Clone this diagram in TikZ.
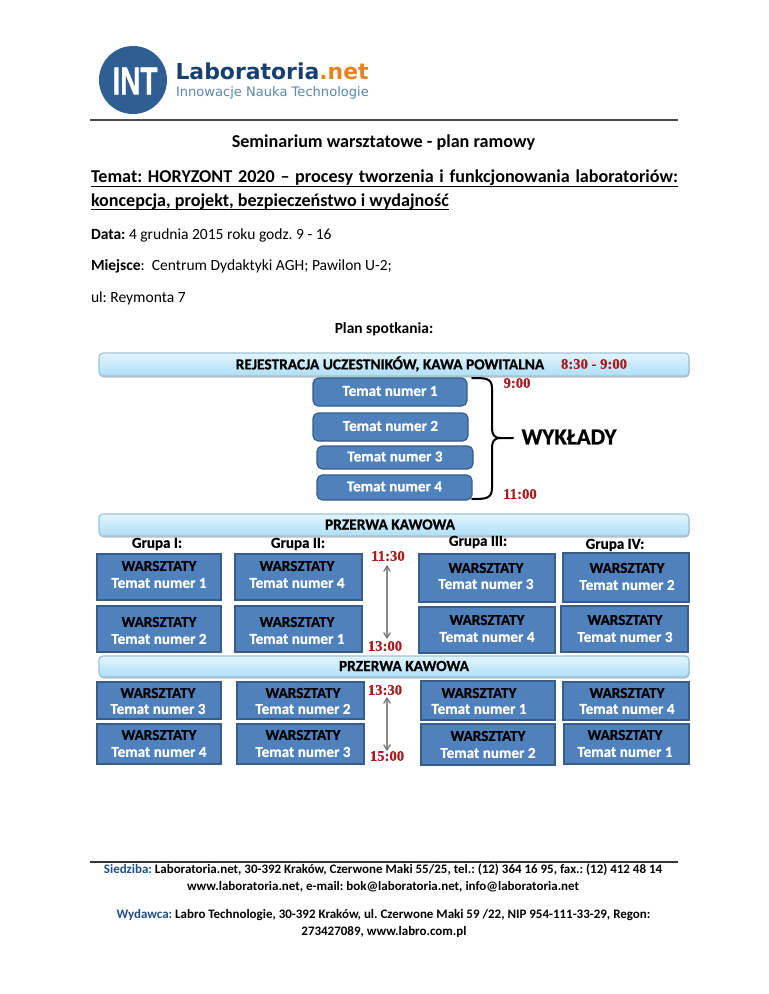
\documentclass[tikz,border=0pt]{standalone}
\usepackage{fontspec}
\usepackage{graphicx}
\setmainfont{Carlito}
\newfontfamily\heavyfont[BoldFeatures={FakeBold=0.7}]{Carlito}
\newfontfamily\dejafont{DejaVu Sans}
\newfontfamily\libfont[BoldFeatures={FakeBold=1.2}]{Liberation Sans}
\newfontfamily\timefont[BoldFeatures={FakeBold=0.5}]{Liberation Serif}
\newcommand{\fsz}[1]{\fontsize{#1}{#1}\selectfont}
\definecolor{boxfill}{HTML}{4F81BD}
\definecolor{boxline}{HTML}{385D8A}
\definecolor{timered}{HTML}{A81C20}
\definecolor{logoblue}{HTML}{2F5E93}
\definecolor{logodark}{HTML}{17406F}
\definecolor{logomid}{HTML}{5A86AE}
\definecolor{logoorange}{HTML}{E8821E}
\definecolor{footblue}{HTML}{1F4E8C}
\definecolor{bantop}{HTML}{E2F5FD}
\definecolor{banmid}{HTML}{CFEEFB}
\definecolor{banbot}{HTML}{AEDFF7}
\definecolor{banedge}{HTML}{9FC3D6}
\usetikzlibrary{arrows.meta}
\tikzset{
  txt/.style={inner sep=0pt,outer sep=0pt,anchor=base west,font=\fsz{11.65}},
  ctr/.style={inner sep=0pt,outer sep=0pt,anchor=center,font=\heavyfont\bfseries\fsz{11.3}},
  whitet/.style={inner sep=0pt,anchor=center,text=white,font=\heavyfont\bfseries\fsz{11.4}},
  blackt/.style={inner sep=0pt,anchor=center,text=black,font=\heavyfont\bfseries\fsz{11.4}},
  timet/.style={inner sep=0pt,outer sep=0pt,anchor=center,text=timered,font=\timefont\bfseries\fsz{11}},
  span/.style={draw=black!45,line width=0.9pt,{Straight Barb[length=4pt,width=5pt,black!55]}-{Straight Barb[length=4pt,width=5pt,black!55]}},
  brace/.style={draw=black,line width=1.5pt,line cap=round,line join=round},
  foot/.style={inner sep=0pt,anchor=base,font=\bfseries\fsz{9.72}},
}
\newcommand{\bannerbox}[5]{%
  \fill[black!25,rounded corners=3pt] (#2+0.5,#3+1.5) rectangle (#4+0.5,#5+1.5);
  \shade[rounded corners=3pt,top color=bantop,middle color=banmid,bottom color=banbot]
     (#2,#3) rectangle (#4,#5);
  \draw[rounded corners=3pt,draw=banedge,line width=0.9pt] (#2,#3) rectangle (#4,#5);
  \coordinate (#1) at ({(#2+#4)/2},{(#3+#5)/2});
}
\newcommand{\tbox}[6]{%
  \draw[rounded corners=4pt,fill=boxfill,draw=boxline,line width=0.9pt] (#2,#3) rectangle (#4,#5);
  \node[whitet] (#1) at ({(#2+#4)/2},{(#3+#5)/2-1}) {#6};
}
\newcommand{\wbox}[9]{%
  \draw[fill=boxfill,draw=boxline,line width=0.9pt] (#2,#3) rectangle (#4,#5);
  \node[blackt] (#1a) at (#6,#7) {WARSZTATY};
  \node[whitet] (#1b) at (#6,#8) {#9};
}
\begin{document}
\frenchspacing
\begin{tikzpicture}[x=0.75pt,y=-0.75pt]
\useasboundingbox (0,0) rectangle (768,994);
\fill[white] (0,0) rectangle (768,994);
% logo
\fill[logoblue] (133,80) circle (34);
\node[inner sep=0pt,text=white] (logoint) at (135,81) {\scalebox{0.72}[1]{\libfont\bfseries\fsz{29}INT}};
\node[txt,text=logodark,font=\dejafont\bfseries\fsz{16.45}] (logoa) at (175.5,80) {Laboratoria\textcolor{logoorange}{.net}};
\node[txt,text=logomid,font=\dejafont\fsz{9.8}] (logob) at (176,97) {Innowacje Nauka Technologie};
\draw[black!70,line width=1.1pt] (90,120) -- (678,120);
% heading
\node[inner sep=0pt,anchor=base,font=\bfseries\fsz{13.6}] (title) at (383.5,148) {Seminarium warsztatowe - plan ramowy};
\node[txt,font=\bfseries\fsz{13.58}] (tem1) at (91,183) {\makebox[440.25pt][s]{Temat: HORYZONT 2020 – procesy tworzenia i funkcjonowania laboratoriów:}};
\node[txt,font=\bfseries\fsz{13.58}] (tem2) at (91,207) {koncepcja, projekt, bezpieczeństwo i wydajność};
\draw[black,line width=0.8pt] ([yshift=-2.6pt]tem1.base west) -- ([yshift=-2.6pt]tem1.base east);
\draw[black,line width=0.8pt] ([yshift=-1.8pt]tem2.base west) -- ([yshift=-1.8pt]tem2.base east);
\node[txt] (data) at (91,239.5) {\textbf{Data:} 4 grudnia 2015 roku godz. 9 - 16};
\node[txt] (miej) at (91,271) {\textbf{Miejsce}:\ \ Centrum Dydaktyki AGH; Pawilon U-2;};
\node[txt] (ul) at (91,303) {ul: Reymonta 7};
\node[inner sep=0pt,anchor=base,font=\bfseries\fsz{11.6}] (plan) at (384,334) {Plan spotkania:};
% banners
\bannerbox{ban1}{99}{353}{689}{376}
\bannerbox{ban2}{99}{514}{689}{536}
\bannerbox{ban3}{99}{656}{689}{677}
\node[ctr,font=\heavyfont\bfseries\fsz{11.55}] (reg) at (390,364) {REJESTRACJA UCZESTNIKÓW, KAWA POWITALNA};
\node[ctr,font=\heavyfont\bfseries\fsz{11.55}] (prz1) at (390,524.5) {PRZERWA KAWOWA};
\node[ctr,font=\heavyfont\bfseries\fsz{11.55}] (prz2) at (404,666) {PRZERWA KAWOWA};
% lecture topics
\tbox{t1}{313}{378}{467}{406}{Temat numer 1}
\tbox{t2}{313}{413}{468}{441}{Temat numer 2}
\tbox{t3}{317}{446}{473}{469}{Temat numer 3}
\tbox{t4}{317}{475}{472}{500}{Temat numer 4}
% brace
\coordinate (bra) at (472,378);
\coordinate (brb) at (472,499);
\coordinate (brm) at (513,438);
\draw[brace] (bra) .. controls (485,378) and (492,378) .. (492,388) -- (492,427)
  .. controls (492,435) and (494,438) .. (501,438) -- (brm)
  (501,438) .. controls (494,438) and (492,441) .. (492,449) -- (492,488)
  .. controls (492,499) and (485,499) .. (brb);
\node[ctr,font=\heavyfont\bfseries\fsz{17.2}] (wyk) at (569,437) {WYKŁADY};
% times
\node[timet] (ta) at (594,364) {8:30 - 9:00};
\node[timet] (tb) at (517,383) {9:00};
\node[timet] (tc) at (520,494) {11:00};
\node[timet] (td) at (388,556) {11:30};
\node[timet] (te) at (385,646) {13:00};
\node[timet] (tf) at (385,690) {13:30};
\node[timet] (tg) at (387,756) {15:00};
\coordinate (ad1) at (387,565);
\coordinate (ad2) at (387,639);
\coordinate (af1) at (387,697);
\coordinate (af2) at (387,751);
\draw[span] (ad1) -- (ad2);
\draw[span] (af1) -- (af2);
% groups
\node[ctr] (g1) at (157,544) {Grupa I:};
\node[ctr] (g2) at (298,544) {Grupa II:};
\node[ctr] (g3) at (478,542) {Grupa III:};
\node[ctr] (g4) at (615,545) {Grupa IV:};
% workshops
\wbox{a1}{97}{554}{221}{600}{159}{566}{583}{Temat numer 1}
\wbox{a2}{235}{554}{362}{600}{297}{566}{583}{Temat numer 4}
\wbox{a3}{419}{554}{555}{602}{486}{568}{584}{Temat numer 3}
\wbox{a4}{563}{553}{689}{602}{627}{568}{585}{Temat numer 2}
\wbox{b1}{97}{606}{221}{652}{159}{622}{639}{Temat numer 2}
\wbox{b2}{235}{606}{362}{652}{297}{622}{639}{Temat numer 1}
\wbox{b3}{419}{607}{555}{653}{487}{620}{637}{Temat numer 4}
\wbox{b4}{561}{606}{688}{652}{625}{620}{637}{Temat numer 3}
\wbox{c1}{97}{682}{221}{719}{158}{693}{709}{Temat numer 3}
\wbox{c2}{237}{682}{364}{719}{303}{693}{709}{Temat numer 2}
\wbox{c3}{421}{681}{555}{720}{479}{693}{709}{Temat numer 1}
\wbox{c4}{563}{682}{689}{720}{627}{693}{709}{Temat numer 4}
\wbox{d1}{97}{724}{221}{764}{159}{735}{752}{Temat numer 4}
\wbox{d2}{237}{724}{364}{764}{303}{735}{752}{Temat numer 3}
\wbox{d3}{421}{724}{555}{765}{488}{736}{753}{Temat numer 2}
\wbox{d4}{564}{724}{689}{764}{625}{735}{752}{Temat numer 1}
% footer
\draw[black!80,line width=1pt] (90,862) -- (678,862);
\node[foot] (f1) at (383,873) {\textcolor{footblue}{Siedziba:} Laboratoria.net, 30-392 Kraków, Czerwone Maki 55/25, tel.: (12) 364 16 95, fax.: (12) 412 48 14};
\node[foot] (f2) at (383,890) {www.laboratoria.net, e-mail: bok@laboratoria.net, info@laboratoria.net};
\node[foot] (f3) at (383.5,918) {\textcolor{footblue}{Wydawca:} Labro Technologie, 30-392 Kraków, ul. Czerwone Maki 59 /22, NIP 954-111-33-29, Regon:};
\node[foot] (f4) at (384,935) {273427089, www.labro.com.pl};
\end{tikzpicture}
\end{document}
